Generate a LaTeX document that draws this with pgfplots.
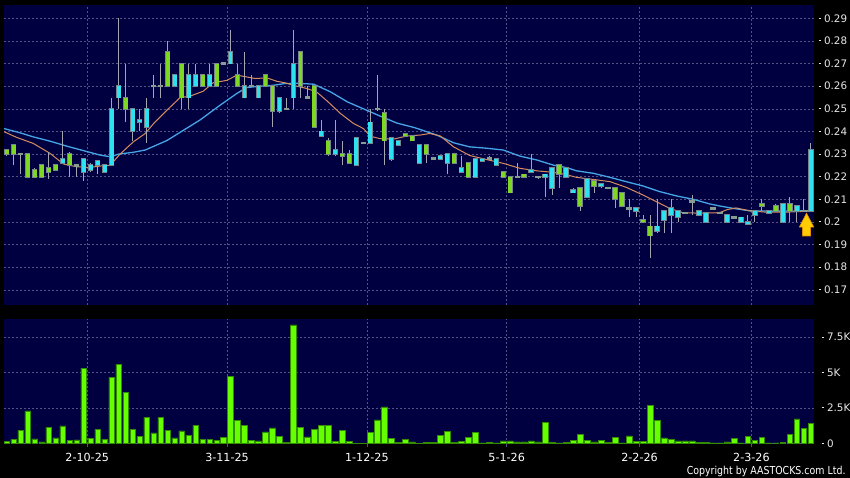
\documentclass[border=0pt]{standalone}
\usepackage{pgfplots}
\pgfplotsset{compat=1.18}
\usepackage{pgfplotstable}
\usepackage{fontspec}
\setmainfont{DejaVu Sans}
\newfontfamily\cpfont[FakeStretch=0.86]{DejaVu Sans}

\definecolor{navybg}{RGB}{0,0,64}
\definecolor{gridc}{RGB}{82,82,132}
\definecolor{labc}{RGB}{232,232,232}
\definecolor{cyanc}{RGB}{45,225,240}
\definecolor{greenc}{RGB}{125,215,35}
\definecolor{bordc}{RGB}{118,134,140}
\definecolor{wickc}{RGB}{165,165,175}
\definecolor{dojic}{RGB}{135,155,145}
\definecolor{volc}{RGB}{102,255,0}
\definecolor{voledge}{RGB}{50,140,0}
\definecolor{mablue}{RGB}{70,165,230}
\definecolor{maorange}{RGB}{215,140,95}
\definecolor{arrowc}{RGB}{255,205,0}
\definecolor{arrowedge}{RGB}{220,140,0}

\newcommand{\tdash}{\rule[3.4bp]{2.6bp}{0.9bp}\hspace{3bp}}

% k open high low close
\pgfplotstableread{
k o h l c
8 0.226 0.240 0.226 0.228
11 0.222 0.228 0.218 0.228
12 0.223 0.226 0.222 0.225
13 0.225 0.227 0.221 0.227
14 0.222 0.225 0.222 0.225
15 0.225 0.255 0.225 0.250
16 0.255 0.290 0.250 0.260
18 0.240 0.250 0.236 0.250
19 0.244 0.250 0.240 0.245
20 0.242 0.255 0.235 0.250
24 0.260 0.265 0.260 0.265
26 0.255 0.270 0.250 0.265
27 0.260 0.270 0.260 0.265
29 0.260 0.270 0.260 0.265
32 0.270 0.285 0.270 0.275
34 0.255 0.275 0.255 0.260
36 0.255 0.260 0.255 0.260
39 0.249 0.255 0.248 0.255
41 0.255 0.285 0.250 0.270
45 0.238 0.245 0.238 0.240
47 0.230 0.245 0.229 0.232
50 0.225 0.237 0.225 0.237
52 0.235 0.250 0.235 0.244
55 0.228 0.237 0.227 0.237
56 0.234 0.236 0.234 0.236
59 0.226 0.234 0.226 0.234
62 0.228 0.229 0.228 0.229
63 0.226 0.230 0.221 0.230
65 0.222 0.229 0.222 0.224
67 0.220 0.228 0.220 0.228
68 0.227 0.228 0.227 0.228
70 0.225 0.228 0.225 0.228
75 0.222 0.230 0.222 0.223
77 0.220 0.221 0.211 0.221
78 0.215 0.224 0.212 0.224
80 0.220 0.224 0.220 0.224
81 0.213 0.215 0.213 0.214
83 0.211 0.219 0.211 0.219
85 0.216 0.217 0.215 0.217
90 0.205 0.206 0.202 0.206
93 0.196 0.210 0.195 0.198
94 0.201 0.205 0.195 0.205
95 0.203 0.210 0.195 0.206
96 0.202 0.205 0.200 0.205
99 0.203 0.205 0.203 0.205
100 0.200 0.204 0.200 0.204
103 0.200 0.203 0.200 0.203
105 0.200 0.202 0.200 0.202
106 0.199 0.203 0.199 0.200
107 0.203 0.205 0.200 0.205
109 0.204 0.205 0.204 0.205
111 0.200 0.208 0.200 0.208
113 0.205 0.207 0.200 0.207
115 0.205 0.235 0.205 0.232
}\upc

\pgfplotstableread{
k o h l c
0 0.232 0.232 0.229 0.230
1 0.234 0.234 0.225 0.230
3 0.230 0.230 0.220 0.220
4 0.223 0.224 0.220 0.220
5 0.225 0.225 0.220 0.220
6 0.224 0.231 0.219 0.222
7 0.225 0.225 0.223 0.223
9 0.230 0.231 0.220 0.225
17 0.255 0.270 0.244 0.250
23 0.275 0.280 0.260 0.260
25 0.270 0.270 0.250 0.255
28 0.265 0.265 0.260 0.260
30 0.270 0.270 0.260 0.260
33 0.265 0.270 0.260 0.260
37 0.265 0.265 0.260 0.260
38 0.260 0.260 0.242 0.249
42 0.275 0.275 0.255 0.260
44 0.260 0.260 0.242 0.242
46 0.236 0.237 0.229 0.230
48 0.230 0.236 0.225 0.229
49 0.230 0.232 0.226 0.226
54 0.248 0.250 0.225 0.236
57 0.239 0.239 0.238 0.238
58 0.238 0.238 0.236 0.236
60 0.234 0.234 0.226 0.230
64 0.230 0.230 0.226 0.226
66 0.226 0.226 0.220 0.220
71 0.222 0.222 0.220 0.220
72 0.220 0.220 0.213 0.213
74 0.221 0.221 0.220 0.220
79 0.225 0.225 0.215 0.221
82 0.215 0.215 0.205 0.207
84 0.218 0.218 0.213 0.216
87 0.215 0.215 0.206 0.210
88 0.213 0.213 0.207 0.207
91 0.201 0.203 0.200 0.200
92 0.198 0.203 0.184 0.194
108 0.208 0.210 0.205 0.207
110 0.207 0.208 0.205 0.205
112 0.208 0.211 0.200 0.205
}\dnc

\pgfplotstableread{
k o h l c
2 0.230 0.230 0.221 0.230
10 0.225 0.225 0.220 0.225
21 0.260 0.265 0.255 0.260
22 0.260 0.270 0.255 0.260
31 0.270 0.270 0.270 0.270
35 0.260 0.265 0.260 0.260
40 0.250 0.255 0.250 0.250
43 0.255 0.260 0.255 0.255
51 0.235 0.235 0.235 0.235
53 0.250 0.265 0.249 0.250
61 0.228 0.228 0.228 0.228
69 0.228 0.229 0.228 0.228
73 0.220 0.226 0.220 0.220
76 0.220 0.220 0.219 0.220
86 0.215 0.215 0.215 0.215
89 0.206 0.210 0.202 0.206
97 0.204 0.204 0.204 0.204
98 0.209 0.212 0.203 0.209
101 0.206 0.206 0.206 0.206
102 0.204 0.204 0.204 0.204
104 0.202 0.202 0.202 0.202
114 0.205 0.210 0.205 0.205
}\doji

\pgfplotstableread{
k v
0 140
1 260
2 900
3 2290
4 310
5 95
6 1130
7 380
8 1230
9 190
10 240
11 5310
12 330
13 990
14 260
15 4670
16 5590
17 3610
18 970
19 470
20 1860
21 730
22 1820
23 940
24 380
25 870
26 540
27 1270
28 260
29 260
30 190
31 400
32 4740
33 1630
34 1270
35 190
36 165
37 800
38 1090
39 500
40 70
41 8370
42 1130
43 450
44 990
45 1270
46 1270
47 120
48 940
49 140
50 20
51 20
52 780
53 1650
54 2570
55 350
56 70
57 280
58 95
59 20
60 50
61 60
62 540
63 830
64 50
65 120
66 420
67 750
68 30
69 70
70 30
71 165
72 165
73 95
74 95
75 165
76 95
77 1490
78 70
79 30
80 70
81 210
82 640
83 210
84 95
85 210
86 50
87 400
88 30
89 520
90 140
91 140
92 2690
93 1600
94 380
95 280
96 165
97 165
98 165
99 50
100 50
101 30
102 30
103 95
104 330
105 30
106 470
107 210
108 400
109 30
110 30
111 70
112 640
113 1720
114 1040
115 1390
}\vol

\pgfplotsset{
  panel/.style={
    scale only axis, anchor=south west, width=810bp,
    xmin=-0.4, xmax=115.45,
    axis background/.style={fill=navybg},
    axis line style={draw=none},
    xtick={11.5,31.5,51.5,71.5,90.5,106.5},
    grid=major,
    major grid style={draw=gridc, line width=0.6bp, dash pattern=on 2bp off 2bp},
    yticklabel pos=right,
    ytick style={draw=none},
    yticklabel style={anchor=west, xshift=4.3bp, inner sep=0pt, text=labc,
      font=\fontsize{10.4}{12}\selectfont},
    /pgf/number format/assume math mode=true,
    /pgf/number format/.cd, fixed, precision=2,
  },
  bar/.style 2 args={draw=none, mark=none, forget plot,
    error bars/.cd, y dir=plus, y explicit, error mark=none,
    error bar style={draw=#1, line width=#2, solid, line cap=butt}},
}

\begin{document}
\begin{tikzpicture}
\fill[black] (0,0) rectangle (850bp,478bp);
\useasboundingbox (0,0) rectangle (850bp,478bp);

% ---------------- price panel ----------------
\begin{axis}[panel,
  at={(4bp,173bp)}, height=300bp,
  ymin=0.1633, ymax=0.2959,
  ytick={0.17,0.18,0.19,0.2,0.21,0.22,0.23,0.24,0.25,0.26,0.27,0.28,0.29},
  yticklabel={\tdash\pgfmathprintnumber{\tick}},
  xticklabels={}, xtick style={draw=none},
]
% moving averages
\addplot[mablue, line width=1.3bp, line join=round, forget plot] coordinates {
(-0.4,0.2413) (1.9,0.2394) (3.8,0.2376) (6.2,0.2357) (8.6,0.2335) (11,0.2315)
(13.3,0.2296) (14.8,0.2288) (16,0.2300) (18.1,0.2308) (19.8,0.2318) (22.9,0.2360)
(25.3,0.2406) (27.6,0.2450) (30.5,0.2516) (32.9,0.2568) (34.3,0.2594) (36.2,0.2600)
(38.1,0.2604) (39.8,0.2612) (41.5,0.2613) (43.9,0.2609) (46.3,0.2575) (48.7,0.2531)
(51,0.2500) (53.4,0.2468) (55.8,0.2437) (58.2,0.2418) (59.1,0.2409) (61.5,0.2384)
(63.9,0.2350) (66.2,0.2332) (68.6,0.2326) (71,0.2318) (73.4,0.2291) (75.8,0.2274)
(78.2,0.2251) (80.1,0.2240) (81.5,0.2226) (83.9,0.2215) (86.3,0.2197) (88.6,0.2178)
(91,0.2159) (93.4,0.2134) (95.8,0.2115) (98.2,0.2100) (100.5,0.2080) (101.9,0.2071)
(103.9,0.2060) (106.3,0.2049) (108.7,0.2048) (111,0.2048) (113.4,0.2049) (115,0.2050)};
\addplot[maorange, line width=1.0bp, line join=round, forget plot] coordinates {
(-0.4,0.2399) (1.4,0.2374) (3.8,0.2347) (6.2,0.2303) (8.1,0.2256) (10,0.2244)
(11.9,0.2241) (13.3,0.2247) (14.8,0.2251) (16.2,0.2300) (18.1,0.2354) (19.8,0.2391)
(21,0.2435) (22.9,0.2494) (24.8,0.2550) (26.2,0.2556) (28.1,0.2578) (29.5,0.2615)
(31.5,0.2626) (32.9,0.2649) (34.3,0.2641) (35.5,0.2634) (37.2,0.2637) (38.6,0.2622)
(39.8,0.2615) (41.5,0.2600) (42.9,0.2590) (44.3,0.2575) (45.8,0.2535) (47.7,0.2480)
(49.6,0.2435) (51,0.2413) (52,0.2379) (53.4,0.2368) (55.3,0.2366) (57.2,0.2380)
(59.1,0.2384) (60.5,0.2391) (62,0.2380) (63.9,0.2332) (66.2,0.2294) (68.6,0.2276)
(71,0.2259) (73.4,0.2237) (75.8,0.2226) (78.2,0.2219) (79.9,0.2210) (81.5,0.2197)
(83.9,0.2188) (86.3,0.2178) (88.6,0.2153) (91,0.2119) (93.4,0.2082) (94.8,0.2060)
(96.7,0.2041) (99.1,0.2039) (101.9,0.2041) (103.1,0.2055) (104.3,0.2062) (106.3,0.2049)
(108.7,0.2043) (111,0.2043) (113.4,0.2046) (115,0.2048)};

% wicks: from low up to high
\addplot[bar={wickc}{0.9bp}] table[x=k, y=l, y error expr=\thisrow{h}-\thisrow{l}] {\upc};
\addplot[bar={wickc}{0.9bp}] table[x=k, y=l, y error expr=\thisrow{h}-\thisrow{l}] {\dnc};
\addplot[bar={wickc}{0.9bp}] table[x=k, y=l, y error expr=\thisrow{h}-\thisrow{l}] {\doji};
% bodies: up (cyan), from open up to close
\addplot[bar={bordc}{5.4bp}] table[x=k, y expr=\thisrow{o}-0.0004, y error expr=\thisrow{c}-\thisrow{o}+0.0008] {\upc};
\addplot[bar={cyanc}{3.9bp}] table[x=k, y=o, y error expr=\thisrow{c}-\thisrow{o}] {\upc};
% bodies: down (green), from close up to open
\addplot[bar={bordc}{5.4bp}] table[x=k, y expr=\thisrow{c}-0.0004, y error expr=\thisrow{o}-\thisrow{c}+0.0008] {\dnc};
\addplot[bar={greenc}{3.9bp}] table[x=k, y=c, y error expr=\thisrow{o}-\thisrow{c}] {\dnc};
% doji dashes
\addplot[bar={dojic}{5.4bp}] table[x=k, y expr=\thisrow{o}-0.0005, y error expr=0.001] {\doji};

% arrow marker under the last candle
\filldraw[fill=arrowc, draw=arrowedge, line width=0.6bp]
 (axis cs:114.38,0.2039) -- (axis cs:115.42,0.1977) -- (axis cs:114.95,0.1977)
 -- (axis cs:114.95,0.1938) -- (axis cs:113.81,0.1938) -- (axis cs:113.81,0.1977)
 -- (axis cs:113.34,0.1977) -- cycle;
\end{axis}

% ---------------- volume panel ----------------
\begin{axis}[panel,
  at={(4bp,33.7bp)}, height=125.3bp,
  ymin=-71, ymax=8794,
  ytick={0,2500,5000,7500},
  yticklabels={\tdash 0,\tdash 2.5K,\tdash 5K,\tdash 7.5K},
  xticklabels={2-10-25,3-11-25,1-12-25,5-1-26,2-2-26,2-3-26},
  xtick pos=bottom, tick align=outside, major tick length=3bp,
  xtick style={draw=gridc, line width=0.6bp, solid},
  xticklabel style={anchor=base, yshift=-13.8bp, text=white,
    font=\fontsize{11.2}{13}\selectfont},
]
\addplot[ybar, bar width=5.6bp, fill=volc, draw=voledge, line width=0.5bp] table[x=k, y=v] {\vol};
\end{axis}

\node[anchor=base east, inner sep=0pt, text=white, font=\cpfont\fontsize{11}{13}\selectfont]
  at (845.7bp,3.3bp) {Copyright by AASTOCKS.com Ltd.};
\end{tikzpicture}
\end{document}
